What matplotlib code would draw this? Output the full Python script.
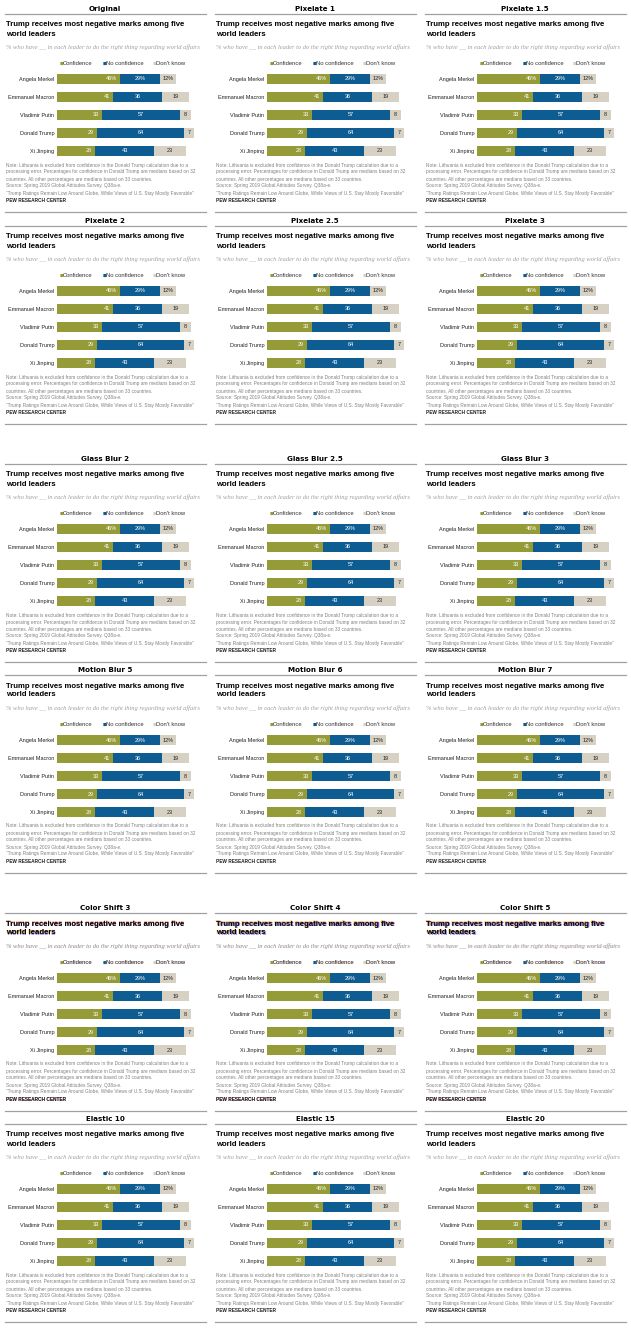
import matplotlib
matplotlib.use("Agg")
import matplotlib.pyplot as plt

W, H = 631, 1328

leaders = ["Angela Merkel", "Emmanuel Macron", "Vladimir Putin", "Donald Trump", "Xi Jinping"]
confidence = [46, 41, 33, 29, 28]
no_confidence = [29, 36, 57, 64, 43]
dont_know = [12, 19, 8, 7, 23]
conf_labels = ["46%", "41", "33", "29", "28"]
noconf_labels = ["29%", "36", "57", "64", "43"]
dk_labels = ["12%", "19", "8", "7", "23"]
series_names = ["Confidence", "No confidence", "Don't know"]

panel_titles = [
    ["Original", "Pixelate 1", "Pixelate 1.5"],
    ["Pixelate 2", "Pixelate 2.5", "Pixelate 3"],
    ["Glass Blur 2", "Glass Blur 2.5", "Glass Blur 3"],
    ["Motion Blur 5", "Motion Blur 6", "Motion Blur 7"],
    ["Color Shift 3", "Color Shift 4", "Color Shift 5"],
    ["Elastic 10", "Elastic 15", "Elastic 20"],
]

chart_title = ["Trump receives most negative marks among five", "world leaders"]
subtitle = "% who have __ in each leader to do the right thing regarding world affairs"
notes = [
    "Note: Lithuania is excluded from confidence in the Donald Trump calculation due to a",
    "processing error. Percentages for confidence in Donald Trump are medians based on 32",
    "countries. All other percentages are medians based on 33 countries.",
    "Source: Spring 2019 Global Attitudes Survey. Q38a-e.",
    "\u201cTrump Ratings Remain Low Around Globe, While Views of U.S. Stay Mostly Favorable\u201d",
]
credit = "PEW RESEARCH CENTER"

C_CONF = "#959b37"
C_NO = "#0d5c92"
C_DK = "#d6d1c2"
colors = [C_CONF, C_NO, C_DK]

row_y = [9, 221, 459, 670, 908, 1119]
col_x = [0, 210, 420]
shift_amount = {"Color Shift 3": 0.5, "Color Shift 4": 0.7, "Color Shift 5": 0.9}

SANS = "Liberation Sans"
SERIF = "Liberation Serif"

fig = plt.figure(figsize=(W / 100, H / 100), dpi=100)


def fx(x):
    return x / W


def fy(y):
    return 1 - y / H


def hline(x1, x2, y, color="#a0a0a0", lw=0.9):
    fig.add_artist(plt.Line2D([fx(x1), fx(x2)], [fy(y), fy(y)], color=color, lw=lw,
                              transform=fig.transFigure))


def ftext(x, y, s, shift=0.0, fringe_alpha=0.6, **kw):
    if shift:
        base = {k: v for k, v in kw.items() if k != "color"}
        fig.text(fx(x - shift), fy(y - shift * 0.5), s, color="#ffd400",
                 alpha=fringe_alpha, **base)
        fig.text(fx(x + shift), fy(y + shift * 0.5), s, color="#3a4dff",
                 alpha=fringe_alpha, **base)
        fig.text(fx(x + shift * 0.4), fy(y - shift * 0.3), s, color="#ff3aa0",
                 alpha=fringe_alpha * 0.6, **base)
    fig.text(fx(x), fy(y), s, **kw)


def draw_panel(x0, y0, name):
    sh = shift_amount.get(name, 0.0)
    fig.text(fx(x0 + 105), fy(y0), name, ha="center", va="center",
             fontsize=5.1, fontweight="bold", family="DejaVu Sans")
    hline(x0 + 5, x0 + 206, y0 + 5)
    for i, line in enumerate(chart_title):
        ftext(x0 + 6, y0 + 16 + 9 * i, line, shift=sh, ha="left", va="center",
              fontsize=5.55, fontweight="bold", family=SANS, color="black")
    ftext(x0 + 6, y0 + 38, subtitle, shift=sh * 0.6, fringe_alpha=0.15,
          ha="left", va="center",
          fontsize=4.72, style="italic", family=SERIF, color="#a0a0a0")
    # legend
    leg_x = [60, 103, 153]
    for lx, nm, col in zip(leg_x, series_names, colors):
        fig.text(fx(x0 + lx), fy(y0 + 54.5), "\u25a0", ha="left", va="center",
                 fontsize=3.0, color=col, family="DejaVu Sans")
        ftext(x0 + lx + 2.6, y0 + 54.5, nm, shift=sh * 0.6, fringe_alpha=0.25,
              ha="left", va="center",
              fontsize=4.25, family=SANS, color="#333333")
    # bars axes
    left_px = x0 + 57
    top_px = y0 + 61
    ax = fig.add_axes([fx(left_px), fy(top_px + 90), 137 / W, 90 / H])
    ypos = list(range(len(leaders)))
    h = 0.61
    ax.barh(ypos, confidence, height=h, color=C_CONF, linewidth=0)
    ax.barh(ypos, no_confidence, left=confidence, height=h, color=C_NO, linewidth=0)
    lefts2 = [a + b for a, b in zip(confidence, no_confidence)]
    ax.barh(ypos, dont_know, left=lefts2, height=h, color=C_DK, linewidth=0)
    for i in ypos:
        ax.text(confidence[i] - 2.3, i, conf_labels[i], ha="right", va="center",
                fontsize=4.0, color="white", family=SANS)
        ax.text(confidence[i] + no_confidence[i] / 2, i, noconf_labels[i], ha="center",
                va="center", fontsize=4.0, color="white", family=SANS)
        ax.text(lefts2[i] + dont_know[i] / 2, i, dk_labels[i], ha="center",
                va="center", fontsize=4.0, color="#222222", family=SANS)
    ax.set_xlim(0, 100)
    ax.set_ylim(len(leaders) - 0.5, -0.5)
    ax.set_yticks(ypos)
    ax.set_yticklabels(leaders, fontsize=4.0, family=SANS, color="#222222")
    ax.tick_params(axis="y", length=0, pad=2)
    ax.set_xticks([])
    for s in ax.spines.values():
        s.set_visible(False)
    ax.patch.set_alpha(0)
    # notes
    for i, line in enumerate(notes):
        fig.text(fx(x0 + 6), fy(y0 + 156 + 7 * i), line, ha="left", va="center",
                 fontsize=3.4, family=SANS, color="#808080")
    ftext(x0 + 6, y0 + 191.7, credit, shift=sh * 0.5, fringe_alpha=0.5,
          ha="left", va="center",
          fontsize=3.4, fontweight="bold", family=SANS, color="#222222")
    hline(x0 + 5, x0 + 206, y0 + 203)


for r, ry in enumerate(row_y):
    for c, cx in enumerate(col_x):
        draw_panel(cx, ry, panel_titles[r][c])

fig.savefig("out.png", dpi=100)
